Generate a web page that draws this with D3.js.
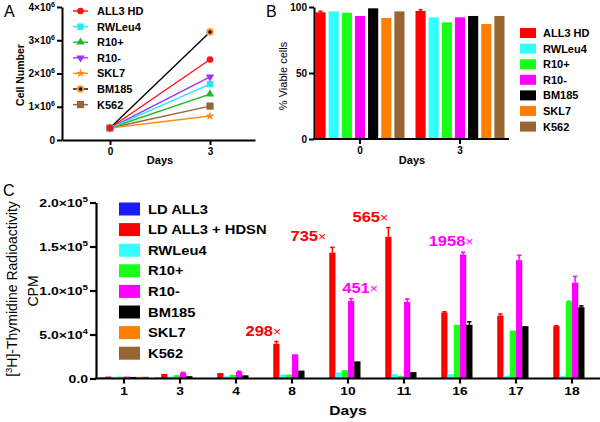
<!DOCTYPE html>
<html><head><meta charset="utf-8">
<script src="https://cdn.jsdelivr.net/npm/d3@7"></script>
<style>html,body{margin:0;padding:0;background:#fff;}svg{display:block;}</style>
</head><body>
<svg id="chart" width="600" height="422"></svg>
<script>
// ---------- DATA ----------
// Panel A: cell number over days
const daysA = [0, 3];
const seriesA = ["ALL3 HD", "RWLeu4", "R10+", "R10-", "SKL7", "BM185", "K562"];
const all3hdA = [0.36e6, 2.42e6];
const rwleu4A = [0.36e6, 1.68e6];
const r10posA = [0.36e6, 1.38e6];
const r10negA = [0.36e6, 1.90e6];
const skl7A   = [0.36e6, 0.72e6];
const bm185A  = [0.36e6, 3.25e6];
const k562A   = [0.36e6, 1.02e6];
const yTicksA = [0, 1e6, 2e6, 3e6, 4e6];
const yTickMantA = ["0", "1×10", "2×10", "3×10", "4×10"];
const yTickExpA = ["", "6", "6", "6", "6"];

// Panel B: % viable cells
const daysB = ["0", "3"];
const seriesB = ["ALL3 HD", "RWLeu4", "R10+", "R10-", "BM185", "SKL7", "K562"];
const viableDay0 = [96, 96.7, 95.7, 93.2, 99, 91.7, 96.7];
const viableDay3 = [97, 92.2, 88.4, 92.2, 93.2, 87.1, 93.2];
const viableErrDay0 = [0.8, 0, 0, 0, 0, 0, 0];
const viableErrDay3 = [1.0, 0, 0, 0, 0, 0, 0];
const yTicksB = [0, 50, 100];

// Panel C: 3H-thymidine CPM
const daysC = ["1", "3", "4", "8", "10", "11", "16", "17", "18"];
const seriesC = ["LD ALL3", "LD ALL3 + HDSN", "RWLeu4", "R10+", "R10-", "BM185", "SKL7", "K562"];
const ldAll3     = [1200, 900, 600, 300, 300, 300, 300, 300, 300];
const ldAll3Hdsn = [2200, 5200, 6200, 39500, 143000, 161000, 75000, 71500, 59500];
const rwleu4C    = [2000, 2200, 2500, 4500, 7000, 5000, 5000, 3000, 3000];
const r10posC    = [2000, 3800, 4200, 4500, 9500, 3000, 61000, 54500, 87500];
const r10negC    = [2200, 6500, 7500, 27500, 88000, 87000, 141000, 134500, 109000];
const bm185C     = [1800, 2600, 3600, 9000, 19500, 7200, 61000, 59500, 81000];
const skl7C      = [1800, 400, 300, 300, 300, 300, 300, 300, 300];
const k562C      = [2000, 400, 300, 300, 300, 300, 300, 300, 300];
const ldAll3HdsnErr = [0, 0, 0, 2500, 6000, 10500, 800, 1800, 500];
const r10posErr  = [0, 0, 0, 0, 0, 0, 0, 0, 500];
const r10negErr  = [0, 500, 800, 0, 2800, 3500, 2500, 5500, 7000];
const bm185Err   = [0, 0, 0, 0, 0, 0, 3500, 0, 1500];
const yTicksC = [0, 5e4, 1e5, 1.5e5, 2e5];
const yTickMantC = ["0.0", "5.0×10", "1.0×10", "1.5×10", "2.0×10"];
const yTickExpC = ["", "4", "5", "5", "5"];
const foldLabels = ["298", "735", "565", "451", "1958"];
const foldDays   = ["8", "10", "11", "10", "16"];
const foldSeries = [1, 1, 1, 4, 4];

// ---------- STYLE ----------
const FONT = "'Liberation Sans', Arial, Helvetica, sans-serif";
const colA = ["#ff1010", "#20e8f8", "#22b822", "#9933ff", "#ff8c1a", "#000000", "#996633"];
const colB = ["#ff0000", "#33ffff", "#1aff1a", "#ff00ff", "#000000", "#ff8000", "#996633"];
const colC = ["#1a1aff", "#ff0000", "#33ffff", "#1aff1a", "#ff00ff", "#000000", "#ff8000", "#996633"];

const svg = d3.select("#chart").attr("font-family", FONT);

function addText(parent, x, y, str, o = {}) {
  let tr = `translate(${x},${y})`;
  if (o.rotate) tr += ` rotate(${o.rotate})`;
  if (o.sx && o.sx !== 1) tr += ` scale(${o.sx},1)`;
  const t = parent.append("text").attr("transform", tr)
    .attr("font-size", o.size || 11)
    .attr("font-weight", o.weight || "bold")
    .attr("text-anchor", o.anchor || "start")
    .attr("fill", o.fill || "#000");
  if (o.dy) t.attr("dy", o.dy);
  t.text(str);
  return t;
}
function supTick(sel, mant, exps, size) {
  sel.each(function (d, i) {
    const t = d3.select(this);
    t.text(null);
    t.append("tspan").text(mant[i]);
    if (exps[i]) t.append("tspan").attr("dy", -size * 0.42).attr("font-size", size * 0.7).text(exps[i]);
  });
}

// ================= PANEL A =================
const gA = svg.append("g");
const xA = d3.scaleLinear().domain([-1.44, 4.35]).range([62, 255]);
const yA = d3.scaleLinear().domain([0, 4e6]).range([140, 7]);
const seriesDataA = [all3hdA, rwleu4A, r10posA, r10negA, skl7A, bm185A, k562A];
const symA = [d3.symbolCircle, d3.symbolSquare, d3.symbolTriangle, d3.symbolTriangle, d3.symbolStar, d3.symbolCircle, d3.symbolSquare];
const symSizeA = [34, 40, 30, 30, 26, 46, 52];

function drawMarker(g, i, x, y) {
  g.append("path").attr("d", d3.symbol(symA[i], symSizeA[i])())
    .attr("transform", `translate(${x},${y})` + (i === 3 ? " rotate(180)" : ""))
    .attr("fill", i === 5 ? "#ff9933" : colA[i]);
  if (i === 5) {
    g.append("circle").attr("cx", x).attr("cy", y).attr("r", 1.8).attr("fill", "#000");
  }
}
for (let i = seriesA.length - 1; i >= 0; i--) {
  const vals = seriesDataA[i];
  gA.append("path")
    .datum(daysA.map((d, k) => [d, vals[k]]))
    .attr("d", d3.line().x(p => xA(p[0])).y(p => yA(p[1])))
    .attr("fill", "none").attr("stroke", colA[i]).attr("stroke-width", 1.4);
}
for (let i = seriesA.length - 1; i >= 0; i--) {
  const vals = seriesDataA[i];
  daysA.forEach((d, k) => drawMarker(gA, i, xA(d), yA(vals[k])));
}
const axYA = gA.append("g").attr("transform", "translate(62,0)")
  .call(d3.axisLeft(yA).tickValues(yTicksA).tickSize(5).tickSizeOuter(0).tickPadding(2));
axYA.select(".domain").attr("stroke-width", 2);
axYA.selectAll(".tick line").attr("stroke-width", 2);
axYA.selectAll("text").attr("font-size", 10).attr("font-weight", "bold").attr("font-family", FONT).attr("fill", "#000");
supTick(axYA.selectAll(".tick text"), yTickMantA, yTickExpA, 10);
const axXA = gA.append("g").attr("transform", "translate(0,140)")
  .call(d3.axisBottom(xA).tickValues(daysA).tickSize(5).tickSizeOuter(0).tickPadding(3).tickFormat(d3.format("d")));
axXA.select(".domain").attr("stroke-width", 2);
axXA.selectAll(".tick line").attr("stroke-width", 2);
axXA.selectAll("text").attr("font-size", 10).attr("font-weight", "bold").attr("font-family", FONT).attr("fill", "#000");
addText(gA, 160, 164, "Days", { size: 11, anchor: "middle" });
addText(gA, 24, 75, "Cell Number", { size: 10.5, anchor: "middle", rotate: -90 });
addText(gA, 4, 17, "A", { size: 16, weight: "normal" });
seriesA.forEach((name, i) => {
  const y = 11 + i * 15.6;
  gA.append("line").attr("x1", 73).attr("x2", 88).attr("y1", y).attr("y2", y)
    .attr("stroke", colA[i]).attr("stroke-width", 1.4);
  drawMarker(gA, i, 80.5, y);
  addText(gA, 97, y, name, { size: 11, dy: "0.36em" });
});

// ================= PANEL B =================
const gB = svg.append("g");
const xB = d3.scaleBand().domain(daysB).range([310, 510]).paddingInner(0).paddingOuter(0);
const xBin = d3.scaleBand().domain(seriesB).range([-44.5, 44.5]).paddingInner(0.23).paddingOuter(0);
const yB = d3.scaleLinear().domain([0, 100]).range([139, 7]);
const viableByDay = [viableDay0, viableDay3];
const viableErrByDay = [viableErrDay0, viableErrDay3];
daysB.forEach((d, k) => {
  const cx = xB(d) + xB.bandwidth() / 2;
  seriesB.forEach((s, i) => {
    const v = viableByDay[k][i];
    const x = cx + xBin(s);
    gB.append("rect").attr("x", x).attr("y", yB(v)).attr("width", xBin.bandwidth())
      .attr("height", yB(0) - yB(v)).attr("fill", colB[i]);
    const e = viableErrByDay[k][i];
    if (e > 0) {
      const mx = x + xBin.bandwidth() / 2;
      gB.append("line").attr("x1", mx).attr("x2", mx).attr("y1", yB(v)).attr("y2", yB(v + e)).attr("stroke", colB[i]).attr("stroke-width", 1.5);
      gB.append("line").attr("x1", mx - 2).attr("x2", mx + 2).attr("y1", yB(v + e)).attr("y2", yB(v + e)).attr("stroke", colB[i]).attr("stroke-width", 1.5);
    }
  });
});
const axYB = gB.append("g").attr("transform", "translate(314,0)")
  .call(d3.axisLeft(yB).tickValues(yTicksB).tickSize(5).tickSizeOuter(0).tickPadding(2));
axYB.select(".domain").attr("stroke-width", 2);
axYB.selectAll(".tick line").attr("stroke-width", 2);
axYB.selectAll("text").attr("font-size", 10).attr("font-weight", "bold").attr("font-family", FONT).attr("fill", "#000");
const axXB = gB.append("g").attr("transform", "translate(0,139)")
  .call(d3.axisBottom(xB).tickSize(5).tickSizeOuter(0).tickPadding(3));
axXB.select(".domain").remove();
axXB.append("line").attr("x1", 313).attr("x2", 509).attr("stroke", "#000").attr("stroke-width", 2);
axXB.selectAll(".tick line").attr("stroke-width", 2);
axXB.selectAll("text").attr("font-size", 10).attr("font-weight", "bold").attr("font-family", FONT).attr("fill", "#000");
addText(gB, 412, 164, "Days", { size: 11, anchor: "middle" });
addText(gB, 287, 76, "% Viable cells", { size: 11, weight: "normal", anchor: "middle", rotate: -90 });
addText(gB, 266, 17, "B", { size: 16, weight: "normal" });
seriesB.forEach((name, i) => {
  const y = 33 + i * 15.6;
  gB.append("rect").attr("x", 520).attr("y", y - 5).attr("width", 16).attr("height", 10).attr("fill", colB[i]);
  addText(gB, 543, y, name, { size: 11, dy: "0.36em" });
});

// ================= PANEL C =================
const gC = svg.append("g");
const xC = d3.scaleBand().domain(daysC).range([96, 600]).paddingInner(0.107).paddingOuter(0.0535);
const xCin = d3.scaleBand().domain(seriesC).range([0, xC.bandwidth()]).padding(0);
const yC = d3.scaleLinear().domain([0, 2e5]).range([378.5, 202.5]);
const seriesDataC = [ldAll3, ldAll3Hdsn, rwleu4C, r10posC, r10negC, bm185C, skl7C, k562C];
const seriesErrC = [null, ldAll3HdsnErr, null, r10posErr, r10negErr, bm185Err, null, null];
daysC.forEach((d, k) => {
  seriesC.forEach((s, i) => {
    const v = seriesDataC[i][k];
    const x = xC(d) + xCin(s);
    gC.append("rect").attr("x", x).attr("y", yC(v)).attr("width", xCin.bandwidth())
      .attr("height", yC(0) - yC(v)).attr("fill", colC[i]);
    const errs = seriesErrC[i];
    if (errs && errs[k] > 0) {
      const mx = x + xCin.bandwidth() / 2, yt = yC(v + errs[k]);
      gC.append("line").attr("x1", mx).attr("x2", mx).attr("y1", yC(v)).attr("y2", yt).attr("stroke", colC[i]).attr("stroke-width", 1.5);
      gC.append("line").attr("x1", mx - 2.2).attr("x2", mx + 2.2).attr("y1", yt).attr("y2", yt).attr("stroke", colC[i]).attr("stroke-width", 1.5);
    }
  });
});
const axYC = gC.append("g").attr("transform", "translate(96,0)")
  .call(d3.axisLeft(yC).tickValues(yTicksC).tickSize(6).tickSizeOuter(0).tickPadding(2));
axYC.select(".domain").attr("stroke-width", 2.2);
axYC.selectAll(".tick line").attr("stroke-width", 2.2);
axYC.selectAll("text").attr("font-size", 11.5).attr("font-weight", "bold").attr("font-family", FONT).attr("fill", "#000")
  .attr("x", -6.5).attr("transform", "scale(1.22,1)");
supTick(axYC.selectAll(".tick text"), yTickMantC, yTickExpC, 11.5);
const axXC = gC.append("g").attr("transform", "translate(0,378.5)")
  .call(d3.axisBottom(xC).tickSize(5).tickSizeOuter(0).tickPadding(3));
axXC.select(".domain").remove();
axXC.append("line").attr("x1", 95).attr("x2", 600).attr("stroke", "#000").attr("stroke-width", 2.2);
axXC.selectAll(".tick line").attr("stroke-width", 2.2);
axXC.selectAll("text").attr("font-size", 11.5).attr("font-weight", "bold").attr("font-family", FONT).attr("fill", "#000")
  .attr("transform", "scale(1.2,1)");
addText(gC, 348, 415, "Days", { size: 12.5, anchor: "middle", sx: 1.25 });
addText(gC, 3, 196, "C", { size: 16, weight: "normal" });
const tC1 = addText(gC, 17, 289, "", { size: 14, weight: "normal", anchor: "middle", rotate: -90 });
tC1.append("tspan").text("[");
tC1.append("tspan").attr("dy", -5).attr("font-size", 9.5).text("3");
tC1.append("tspan").attr("dy", 5).text("H]-Thymidine Radioactivity");
addText(gC, 38, 291, "CPM", { size: 14, weight: "normal", anchor: "middle", rotate: -90 });
seriesC.forEach((name, i) => {
  const y = 209 + i * 20.6;
  gC.append("rect").attr("x", 119).attr("y", y - 6.5).attr("width", 21).attr("height", 13).attr("fill", colC[i]);
  addText(gC, 148, y, name, { size: 12.5, dy: "0.36em", sx: 1.18 });
});
const foldDx = [-13, -24, -18, 9, -12];
foldLabels.forEach((lab, j) => {
  const k = daysC.indexOf(foldDays[j]);
  const si = foldSeries[j];
  const v = seriesDataC[si][k] + ((seriesErrC[si] && seriesErrC[si][k]) || 0);
  const cx = xC(foldDays[j]) + xCin(seriesC[si]) + xCin.bandwidth() / 2 + foldDx[j];
  const t = addText(gC, cx, yC(v) - 6, "", { size: 14, anchor: "middle", fill: colC[si], sx: 1.18 });
  t.append("tspan").text(lab);
  t.append("tspan").attr("font-weight", "normal").attr("font-size", 12).text("×");
});
</script>
</body></html>
